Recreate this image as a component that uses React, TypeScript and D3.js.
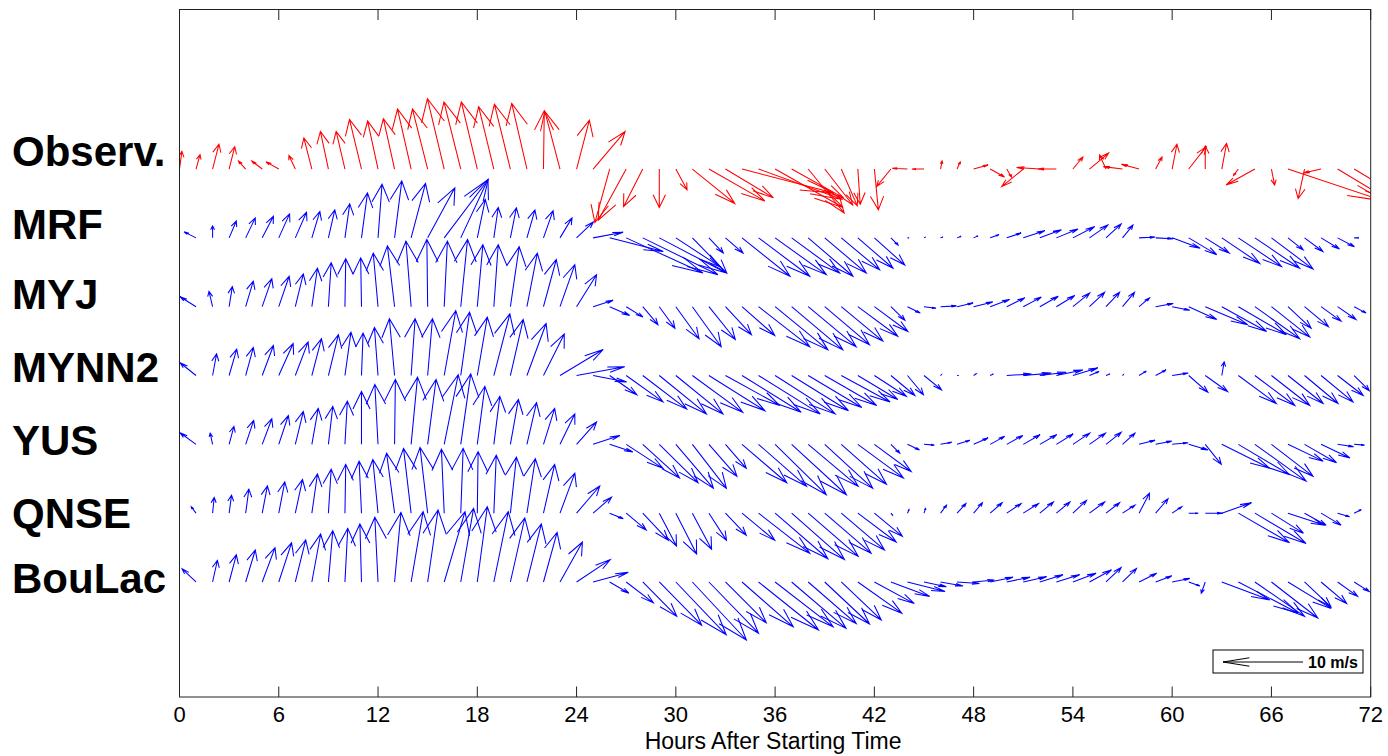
import React from 'react';
import * as d3 from 'd3';

// ---------- data (m/s, u = eastward, v = northward), hours 0..72 ----------
const hours: number[] = d3.range(0, 73);
const xTickValues: number[] = [0, 6, 12, 18, 24, 30, 36, 42, 48, 54, 60, 66, 72];
const rowNames: string[] = ['Observ.', 'MRF', 'MYJ', 'MYNN2', 'YUS', 'QNSE', 'BouLac'];
const rowLevels: number[] = [7, 6, 5, 4, 3, 2, 1];
const legendSpeed = 10;
const legendLabel = '10 m/s';
const xTitle = 'Hours After Starting Time';

const obsU = [0.3, 0.5, 0.8, 0.7, -0.9, -1.3, -1.6, -0.8, -1.0, -1.0, -1.1, -1.5, -1.3, -1.4, -1.7, -1.9, -2.1, -2.1, -2.0, -1.9, -2.0, -1.9, 0.1, -1.9, 1.6, 4.0, -1.85, -3.5, -2.4, 0, 1.4, 5.3, 7.0, 6.0, 11.5, 10.5, 8.5, 6.5, 4.5, 3.5, 2.0, 0.3, 0.5, -1.8, -1.9, -1.5, 0.2, 0.4, 1.8, 1.8, 0.6, -2.7, -2.9, -2.3, 1.25, 2.4, -0.8, -2.4, -2.2, 0.8, 0.6, 2.2, 0, 0.6, -0.6, -3.6, 0.4, 12, -0.8, -2.2, 6, 5, 4];
const obsV = [2.2, 1.8, 3.1, 2.8, 1.0, 1.0, 0.9, 1.7, 3.9, 4.7, 4.7, 6.2, 6.0, 6.3, 7.5, 7.5, 8.8, 8.4, 8.4, 7.8, 8.1, 8.2, 7.3, 7.2, 6.1, 4.7, -6.7, -6.4, -4.7, -4.8, -2.6, -4.3, -4.0, -3.6, -3.0, -3.8, -4.8, -3.6, -5.5, -4.5, -4.6, -4.4, -5.1, -2.2, 0.1, 0, 1.0, 0.9, 0.5, -1.0, -1.0, -2.2, 0.2, 0, 1.5, 2.0, 1.75, 0.3, 0.6, 1.5, 3.1, 2.8, 2.9, 3.2, -0.8, -2.0, -2.0, -4.0, -3.7, -0.5, -3.6, -3.0, -2];

const mrfU = [0, -1.5, 0, 0.9, 1.2, 1.4, 1.35, 1.4, 1.0, 0.8, 0.6, 0.75, 0.5, 0.9, 1.8, 3.4, 5.5, 3.4, 1.0, 0.55, 0.75, 1.0, 1.2, 1.5, 2.1, 3.75, 6.7, 9.6, 9.4, 8.4, 5.5, 4.3, 1.8, 2.2, 6.0, 6.4, 6.4, 6.0, 5.6, 5.2, 4.8, 4.4, 3.8, 0.9, 0.2, 0.2, 0.3, 0.5, 0.55, 1.1, 1.8, 2.7, 2.7, 2.7, 2.7, 2.3, 1.9, 1.3, 2.0, 2.2, 3.5, 3.5, 3.0, 4.75, 5.4, 5.6, 5.2, 1.9, 2.3, 2.3, 2.1, 0.6, 0];
const mrfV = [0, 0.75, 1.5, 2.1, 2.5, 2.7, 3.0, 3.2, 3.3, 3.5, 4.25, 5.6, 6.7, 7.1, 6.8, 6.25, 7.3, 7.3, 4.8, 3.8, 3.75, 3.5, 3.4, 2.5, 2.0, 0.7, -1.7, -4.4, -4.6, -4.4, -3.6, -4.4, -1.9, -1.9, -4.8, -4.8, -4.6, -4.4, -4.8, -4.4, -4.0, -3.8, -3.4, -0.9, 0, 0.1, 0.1, 0.2, 0.25, 0.4, 0.6, 0.9, 1.0, 1.1, 1.4, 1.6, 1.75, 1.6, 0.1, -0.1, -1.3, -2.1, -1.9, -3.2, -3.6, -3.8, -3.9, -1.5, -1.7, -1.4, -1.1, 0, 0];

const myjU = [0, -2.0, -0.45, 0.4, 0.95, 1.2, 1.3, 1.0, 0.7, 0.35, 0.1, -0.1, -0.6, -0.9, -0.65, -0.1, 0.4, 0.85, 0.7, 0.55, 1.1, 1.3, 1.6, 1.85, 2.5, 2.5, 2.5, 2.1, 1.9, 1.95, 2.9, 3.6, 3.3, 3.25, 4.1, 6.4, 6.6, 6.4, 6.0, 5.6, 5.2, 5.0, 4.2, 1.75, 1.6, 1.5, 2.0, 2.0, 2.4, 2.4, 2.25, 2.25, 2.3, 2.3, 2.1, 1.9, 1.7, 1.5, 1.3, 2.2, 2.2, 3.5, 5.3, 5.6, 6.0, 5.6, 4.8, 2.9, 3.0, 2.5, 2.3, 1.5, 0];
const myjV = [0, 1.25, 1.9, 2.5, 3.2, 3.5, 3.8, 4.1, 4.8, 5.5, 6.0, 6.1, 6.7, 7.6, 8.2, 8.4, 8.2, 8.4, 7.75, 7.75, 7.5, 6.7, 5.9, 5.25, 4.0, 0.8, -1.1, -1.3, -2.25, -2.7, -4.0, -5.0, -4.1, -3.5, -3.6, -5.0, -5.4, -5.4, -5.0, -4.75, -4.3, -3.7, -3.1, -1.7, -0.8, -0.2, 0.1, 0.45, 0.6, 0.9, 1.1, 1.2, 1.3, 1.4, 1.7, 1.8, 1.8, 1.8, 1.1, 0.4, -0.45, -1.6, -2.25, -3.1, -3.5, -4.0, -3.8, -2.7, -2.5, -1.8, -1.6, -0.8, 0];

const mynnU = [0, -2.0, 0.5, 0.95, 0.95, 1.4, 1.8, 1.6, 1.2, 1.25, 0.75, 0.2, -0.45, -0.65, 0.5, 0.6, 1.45, 1.1, 1.25, 2.0, 1.6, 2.4, 2.6, 5.4, 6.0, 4.2, 3.4, 4.6, 5.5, 5.9, 5.9, 6.3, 7.0, 6.8, 7.4, 7.7, 7.5, 7.1, 6.7, 6.5, 6.1, 5.0, 4.0, 3.0, 2.0, 2.2, 0.1, 0.2, 0.3, 0.4, 3.1, 3.5, 3.3, 3.3, 3.1, 1.2, 0.5, 0.1, 0.9, 1.3, 2.0, 2.4, 2.8, 0.3, 4.75, 5.0, 4.8, 4.4, 4.2, 4.0, 3.2, 1.9, 0];
const mynnV = [0, 1.6, 2.7, 3.3, 3.5, 3.75, 4.0, 4.2, 4.6, 5.1, 5.4, 5.3, 6.0, 7.1, 7.1, 7.1, 8.1, 7.9, 7.3, 7.7, 7.0, 6.5, 5.2, 3.25, 1.1, -0.8, -2.4, -3.3, -4.2, -4.8, -4.8, -4.6, -4.4, -3.75, -4.6, -4.8, -4.8, -4.4, -4.0, -3.75, -3.3, -3.0, -2.6, -2.5, -2.4, -1.8, 0.1, 0, 0.2, 0.2, 0.2, 0.3, 0.4, 0.7, 0.95, 0.5, 0.2, 0.1, 0.55, 0.7, 0.3, -2.1, -2.0, 1.7, -3.5, -3.75, -3.75, -3.5, -3.5, -3.3, -2.5, -1.9, 0];

const yusU = [0, -2.0, -0.3, 0.6, 1.0, 1.2, 1.2, 1.0, 0.8, 0.55, 0.3, 0, -0.4, 0.1, 0.8, 1.05, 1.75, 1.25, 0.95, 0.75, 1.0, 1.2, 1.4, 1.85, 2.5, 3.35, 2.9, 4.6, 4.6, 4.85, 4.7, 4.25, 3.5, 2.6, 5.6, 6.0, 6.4, 6.85, 6.25, 6.0, 5.65, 5.7, 4.6, 1.1, 1.5, 1.3, 1.4, 1.6, 1.8, 1.8, 2.0, 2.1, 2.1, 2.1, 2.1, 2.0, 1.9, 1.55, 2.0, 2.0, 2.0, 2.4, 2.0, 6.0, 6.4, 6.4, 5.2, 4.4, 4.0, 3.6, 2.0, 1.3, 0];
const yusV = [0, 1.45, 1.4, 2.25, 3.0, 3.2, 3.6, 4.1, 4.5, 4.75, 5.4, 6.6, 7.5, 8.1, 8.4, 8.1, 8.7, 8.8, 7.25, 6.0, 5.6, 5.2, 4.5, 3.8, 2.8, 1.1, -0.95, -3.0, -4.2, -4.8, -5.5, -5.5, -4.0, -3.0, -4.8, -5.25, -6.3, -6.3, -5.25, -5.5, -5.0, -4.2, -3.4, -1.1, -0.7, -0.1, 0.25, 0.5, 0.8, 1.0, 1.1, 1.2, 1.2, 1.3, 1.4, 1.4, 1.5, 1.4, 0.5, 0.4, 0.2, -0.7, -2.5, -3.0, -3.8, -4.6, -4.0, -2.1, -2.3, -1.7, -0.3, -0.1, 0];

const qnseU = [0, -0.6, 0.2, 0.3, 0.4, 0.65, 0.75, 0.9, 0.7, 0.35, 0.1, -0.3, -0.65, -1.0, -0.95, -0.95, -0.35, 0.3, 0.1, 0.3, 0.75, 1.05, 1.4, 1.85, 2.9, 2.3, 1.7, 2.5, 3.2, 2.15, 2.6, 2.4, 2.2, 2.6, 4.1, 6.4, 6.6, 6.6, 6.25, 5.8, 5.4, 4.8, 3.5, 0.2, 0.2, 0.2, 0.75, 1.1, 1.1, 1.5, 1.8, 1.9, 1.7, 1.7, 1.7, 1.9, 1.7, 1.55, 1.3, 1.55, 1.2, 1.2, 2.2, 3.7, 6.4, 6.4, 4.0, 4.6, 2.7, 2.5, 1.5, 0.9, 0];
const qnseV = [0, 0.8, 1.95, 2.25, 3.0, 3.4, 3.9, 4.2, 4.9, 5.5, 6.1, 6.5, 6.7, 7.5, 8.1, 8.2, 8.0, 8.1, 7.7, 7.25, 7.0, 6.8, 6.1, 5.0, 3.4, 2.0, -0.7, -2.1, -3.4, -4.1, -5.1, -4.5, -3.4, -2.75, -3.4, -5.0, -5.7, -5.8, -5.4, -5.0, -4.6, -3.6, -2.9, -0.25, 0.45, 0.6, 1.0, 1.2, 1.3, 1.3, 1.2, 1.2, 1.4, 1.4, 1.6, 1.4, 1.3, 1.0, 2.5, 1.8, 0.8, 0, 0, 1.3, -3.7, -3.8, -2.5, -1.5, -1.5, -1.5, -0.45, 0.45, 0];

const boulacU = [0, -1.75, 0.6, 0.9, 1.2, 1.6, 1.6, 1.3, 1.1, 0.55, 0.35, -0.2, -0.4, 0.8, 1.5, 1.3, 2.6, 1.6, 1.25, 1.8, 1.8, 1.8, 1.7, 2.8, 4.2, 4.4, 2.4, 3.4, 4.25, 5.3, 6.3, 6.75, 6.2, 5.1, 6.4, 7.5, 7.25, 6.8, 6.0, 5.6, 5.0, 5.5, 5.0, 4.85, 4.7, 2.8, 2.8, 2.8, 2.6, 2.85, 2.9, 2.9, 2.9, 2.9, 2.9, 2.75, 1.9, 1.75, 2.2, 2.0, 2.2, 1.4, -0.5, 6.0, 7.5, 6.2, 5.8, 5.4, 3.3, 3.2, 2.5, 1.9, 0];
const boulacV = [0, 1.65, 2.7, 3.4, 4.0, 4.3, 4.9, 5.25, 6.0, 6.4, 6.7, 7.25, 8.1, 8.7, 8.8, 9.0, 8.8, 9.2, 9.4, 8.8, 8.0, 7.25, 6.2, 5.0, 2.8, 1.2, -1.4, -2.6, -4.3, -5.4, -6.6, -7.25, -6.4, -5.1, -5.6, -6.0, -5.6, -5.8, -5.2, -5.25, -4.75, -3.9, -2.7, -1.8, -1.2, -0.6, -0.5, -0.2, 0.25, 0.6, 0.6, 0.65, 0.9, 0.9, 1.1, 1.5, 1.8, 1.7, 1.1, 0.75, 0.45, -0.5, -1.4, -2.25, -3.9, -4.3, -4.5, -3.3, -3.1, -2.7, -1.8, -1.2, 0];

const seriesU: number[][] = [obsU, mrfU, myjU, mynnU, yusU, qnseU, boulacU];
const seriesV: number[][] = [obsV, mrfV, myjV, mynnV, yusV, qnseV, boulacV];
const seriesColor: string[] = ['#ff0000', '#0000ff', '#0000ff', '#0000ff', '#0000ff', '#0000ff', '#0000ff'];

// ---------- layout ----------
const W = 1388;
const H = 756;
const PL = 179.5;
const PR = 1370.7;
const PT = 9.5;
const PB = 697;
const labelBaselines = [166, 239, 309, 382, 455, 528, 593];

const x = d3.scaleLinear().domain([0, 72]).range([PL, PR]);
const y = d3.scaleLinear().domain([-0.671, 9.318]).range([PB, PT]);
const speed = d3.scaleLinear().domain([0, 10]).range([0, 80]);

// MATLAB-like quiver head (computed in anisotropic data units)
const ALPHA = 0.33;
const BETA = 0.28;
const ASPECT = 0.57;

function arrowPath(x0: number, y0: number, U: number, V: number): string {
  // U,V in px, V positive up
  const tx = x0 + U;
  const ty = y0 - V;
  const h1x = U - ALPHA * (U + (BETA * V) / ASPECT);
  const h1y = V - ALPHA * (V - BETA * U * ASPECT);
  const h2x = U - ALPHA * (U - (BETA * V) / ASPECT);
  const h2y = V - ALPHA * (V + BETA * U * ASPECT);
  const p = d3.path();
  p.moveTo(x0, y0);
  p.lineTo(tx, ty);
  p.moveTo(x0 + h1x, y0 - h1y);
  p.lineTo(tx, ty);
  p.lineTo(x0 + h2x, y0 - h2y);
  return p.toString();
}

const FONT = '"Liberation Sans", Arial, Helvetica, sans-serif';

export default function App() {
  const tickLen = 10.5;
  return (
    <svg
      width={W}
      height={H}
      viewBox={`0 0 ${W} ${H}`}
      style={{ position: 'absolute', left: 0, top: 0, background: '#fff' }}
    >
      <defs>
        <clipPath id="plotClip">
          <rect x={PL} y={PT} width={PR - PL} height={PB - PT} />
        </clipPath>
      </defs>
      <rect x={0} y={0} width={W} height={H} fill="#fff" />

      {/* arrows */}
      <g clipPath="url(#plotClip)" fill="none" strokeWidth={1.05}>
        {rowLevels.map((lvl, r) => (
          <g key={r} stroke={seriesColor[r]}>
            {hours.map((h, i) => {
              const u = seriesU[r][i];
              const v = seriesV[r][i];
              if (!u && !v) return null;
              const U = Math.sign(u) * speed(Math.abs(u));
              const V = Math.sign(v) * speed(Math.abs(v));
              return <path key={i} d={arrowPath(x(h), y(lvl), U, V)} />;
            })}
          </g>
        ))}
      </g>

      {/* axes box */}
      <g stroke="#222" strokeWidth={1} fill="none">
        <rect x={PL} y={PT} width={PR - PL} height={PB - PT} />
        {xTickValues.map((t) => (
          <g key={t}>
            <line x1={x(t)} x2={x(t)} y1={PB} y2={PB - tickLen} />
            <line x1={x(t)} x2={x(t)} y1={PT} y2={PT + tickLen} />
          </g>
        ))}
      </g>

      {/* tick labels */}
      <g fontFamily={FONT} fill="#000" textAnchor="middle">
        {xTickValues.map((t) => (
          <text key={t} x={x(t)} y={722} fontSize={22}>
            {t}
          </text>
        ))}
        <text x={(PL + PR) / 2 - 2} y={749} fontSize={23}>
          {xTitle}
        </text>
      </g>

      {/* row labels */}
      <g fontFamily={FONT} fontSize={42} fontWeight="bold" fill="#000">
        {rowNames.map((n, i) => (
          <text key={n} x={12} y={labelBaselines[i]}>
            {n}
          </text>
        ))}
      </g>

      {/* reference arrow legend */}
      <g>
        <rect x={1213} y={650} width={150} height={23} fill="#fff" stroke="#000" strokeWidth={1} />
        <path
          d={arrowPath(1303, 662, -speed(legendSpeed), 0)}
          fill="none"
          stroke="#000"
          strokeWidth={1}
        />
        <text x={1308} y={667.5} fontFamily={FONT} fontSize={16} fontWeight="bold" fill="#000">
          {legendLabel}
        </text>
      </g>
    </svg>
  );
}
